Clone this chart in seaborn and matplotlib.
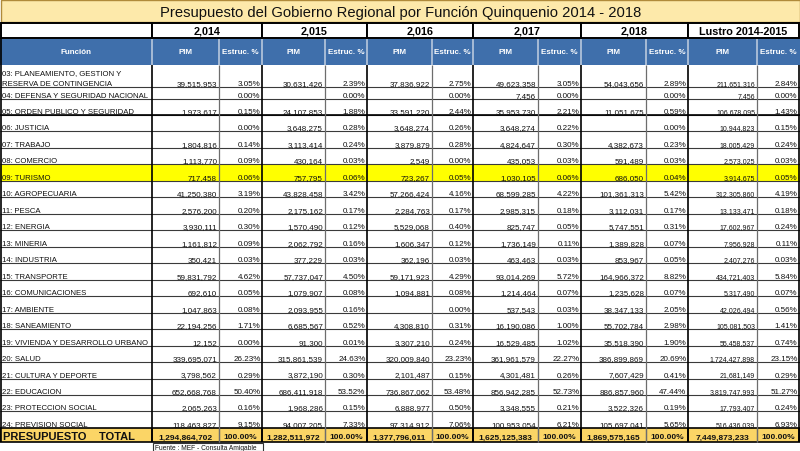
import numpy as np
import matplotlib
matplotlib.use("Agg")
import matplotlib.pyplot as plt
from matplotlib.patches import Rectangle
import seaborn as sns

funciones = [
    "03: PLANEAMIENTO, GESTION Y\nRESERVA DE CONTINGENCIA",
    "04: DEFENSA Y SEGURIDAD NACIONAL",
    "05: ORDEN PUBLICO Y SEGURIDAD",
    "06: JUSTICIA",
    "07: TRABAJO",
    "08: COMERCIO",
    "09: TURISMO",
    "10: AGROPECUARIA",
    "11: PESCA",
    "12: ENERGIA",
    "13: MINERIA",
    "14: INDUSTRIA",
    "15: TRANSPORTE",
    "16: COMUNICACIONES",
    "17: AMBIENTE",
    "18: SANEAMIENTO",
    "19: VIVIENDA Y DESARROLLO URBANO",
    "20: SALUD",
    "21: CULTURA Y DEPORTE",
    "22: EDUCACION",
    "23: PROTECCION SOCIAL",
    "24: PREVISION SOCIAL",
]
periodos = ["2,014", "2,015", "2,016", "2,017", "2,018", "Lustro 2014-2015"]

pim_2014 = [39515953, None, 1973617, None, 1804816, 1113770, 717458, 41250380, 2576200, 3930111, 1161812,
            350421, 59831792, 692610, 1047863, 22194256, 12152, 339695071, 3798562, 652668768, 2065263, 118463827]
pct_2014 = [3.05, 0.00, 0.15, 0.00, 0.14, 0.09, 0.06, 3.19, 0.20, 0.30, 0.09,
            0.03, 4.62, 0.05, 0.08, 1.71, 0.00, 26.23, 0.29, 50.40, 0.16, 9.15]
pim_2015 = [30631426, None, 24107853, 3648275, 3113414, 430164, 757795, 43828458, 2175162, 1570490, 2062792,
            377229, 57737047, 1079907, 2093955, 6685567, 91300, 315861539, 3872190, 686411918, 1968286, 94007205]
pct_2015 = [2.39, 0.00, 1.88, 0.28, 0.24, 0.03, 0.06, 3.42, 0.17, 0.12, 0.16,
            0.03, 4.50, 0.08, 0.16, 0.52, 0.01, 24.63, 0.30, 53.52, 0.15, 7.33]
pim_2016 = [37836922, None, 33591220, 3648274, 3879879, 2549, 723267, 57266424, 2284763, 5529068, 1606347,
            362196, 59171923, 1094881, None, 4308810, 3307210, 320009840, 2101487, 736867062, 6888977, 97314912]
pct_2016 = [2.75, 0.00, 2.44, 0.26, 0.28, 0.00, 0.05, 4.16, 0.17, 0.40, 0.12,
            0.03, 4.29, 0.08, 0.00, 0.31, 0.24, 23.23, 0.15, 53.48, 0.50, 7.06]
pim_2017 = [49623358, 7456, 35953730, 3648274, 4824647, 435053, 1030105, 68599285, 2985315, 825747, 1736149,
            463463, 93014269, 1214464, 537543, 16190086, 16529485, 361961579, 4301481, 856942285, 3348555, 100953054]
pct_2017 = [3.05, 0.00, 2.21, 0.22, 0.30, 0.03, 0.06, 4.22, 0.18, 0.05, 0.11,
            0.03, 5.72, 0.07, 0.03, 1.00, 1.02, 22.27, 0.26, 52.73, 0.21, 6.21]
pim_2018 = [54043656, None, 11051675, None, 4382673, 591489, 686050, 101361313, 3112031, 5747551, 1389828,
            853967, 164966372, 1235628, 38347133, 55702784, 35518390, 386899869, 7607429, 886857960, 3522326, 105697041]
pct_2018 = [2.89, 0.00, 0.59, 0.00, 0.23, 0.03, 0.04, 5.42, 0.17, 0.31, 0.07,
            0.05, 8.82, 0.07, 2.05, 2.98, 1.90, 20.69, 0.41, 47.44, 0.19, 5.65]
pim_lustro = [211651316, 7456, 106678095, 10944823, 18005429, 2573025, 3914675, 312305860, 13133471, 17602967, 7956928,
              2407276, 434721403, 5317490, 42026494, 105081503, 55458537, 1724427898, 21681149, 3819747993, 17793407, 516436039]
pct_lustro = [2.84, 0.00, 1.43, 0.15, 0.24, 0.03, 0.05, 4.19, 0.18, 0.24, 0.11,
              0.03, 5.84, 0.07, 0.56, 1.41, 0.74, 23.15, 0.29, 51.27, 0.24, 6.93]
totales = [1294864702, 1282511972, 1377796011, 1625125383, 1869575165, 7449873233]
resaltado = "09: TURISMO"

pims = [pim_2014, pim_2015, pim_2016, pim_2017, pim_2018, pim_lustro]
pcts = [pct_2014, pct_2015, pct_2016, pct_2017, pct_2018, pct_lustro]

# layout (pixels)
col_w = [152, 67, 43, 63, 42, 65, 41, 65, 43, 65, 42, 69, 42]
row_h = [22, 12, 16] + [16.47] * 19
TITLE_H, YEAR_TOP, YEAR_BOT, HEAD_BOT = 23, 24, 38.5, 66

BLUE = "#3f6fab"
TITLE_BG = "#fde9aa"
TOTAL_BG = "#fbd566"
YELLOW = "#ffff00"

sns.set_style("white")
plt.rcParams["font.family"] = ["Liberation Sans", "DejaVu Sans"]

fig = plt.figure(figsize=(8, 4.52), dpi=100)
ax = fig.add_axes([0, 0, 1, 1])
ax.set_xlim(0, 800)
ax.set_ylim(452, 0)
ax.axis("off")

xe = np.concatenate([[0], np.cumsum(col_w)])
ye = HEAD_BOT + np.concatenate([[0], np.cumsum(row_h)])
tot_top, tot_bot = ye[-1], ye[-1] + 14.5

# title band
ax.add_patch(Rectangle((0.5, 0.5), 799, TITLE_H - 0.5, fc=TITLE_BG, ec="#b08a3a", lw=1))
ax.text(401, 17, "Presupuesto del Gobierno Regional por Función Quinquenio 2014 - 2018",
        ha="center", va="baseline", fontsize=10.6, color="#111111")

# year row
ax.add_patch(Rectangle((0.5, YEAR_TOP), xe[1] - 0.5, YEAR_BOT - YEAR_TOP, fc="white", ec="black", lw=1.4))
for k, per in enumerate(periodos):
    x0, x1 = xe[1 + 2 * k], xe[3 + 2 * k]
    ax.add_patch(Rectangle((x0, YEAR_TOP), x1 - x0, YEAR_BOT - YEAR_TOP, fc="white", ec="black", lw=1.4))
    ax.text((x0 + x1) / 2, YEAR_BOT - 3.5, per, ha="center", va="baseline",
            fontsize=7.8, fontweight="bold", color="black")

# header row
ax.add_patch(Rectangle((0, YEAR_BOT + 1), 800, HEAD_BOT - YEAR_BOT - 1, fc=BLUE, ec="none"))
heads = ["Función"] + ["PIM", "Estruc. %"] * 6
for j, h in enumerate(heads):
    ax.text((xe[j] + xe[j + 1]) / 2, (YEAR_BOT + HEAD_BOT) / 2, h, ha="center", va="center",
            fontsize=5.8, fontweight="bold", color="white")
ax.vlines(xe[1:-1], YEAR_BOT + 1, HEAD_BOT, colors="#b9c9dd", lw=1.2)

# body
for i, fn in enumerate(funciones):
    top, bot = ye[i], ye[i + 1]
    base = bot - 2
    if fn == resaltado:
        ax.add_patch(Rectangle((0, top), 800, bot - top, fc=YELLOW, ec="none"))
    lines = fn.split("\n")
    for n, line in enumerate(lines):
        ax.text(2, base - (len(lines) - 1 - n) * 11, line, ha="left", va="baseline",
                fontsize=5.6, color="#111111")
    for k in range(6):
        v, p = pims[k][i], pcts[k][i]
        size = 5.0 if k == 5 else 5.8
        if v is not None:
            ax.text(xe[2 + 2 * k] - 2, base, f"{v:,}", ha="right", va="baseline",
                    fontsize=size, color="#111111")
        ax.text(xe[3 + 2 * k] - 1.5, base, f"{p:.2f}%", ha="right", va="baseline",
                fontsize=5.8, color="#111111")

ax.hlines(ye[1:-1], 0, 800, colors="#3a3a3a", lw=0.8)
ax.hlines([ye[3]], 0, 800, colors="black", lw=1.2)

# vertical grid
inner = [xe[2 + 2 * k] for k in range(6)]
outer = [xe[1 + 2 * k] for k in range(6)] + [xe[-1] - 0.5]
ax.vlines(inner, HEAD_BOT, tot_bot, colors="#6d6d6d", lw=0.9)
ax.vlines(outer, HEAD_BOT, tot_bot, colors="black", lw=1.2)
ax.vlines([0.5], YEAR_BOT, tot_bot, colors="black", lw=1.2)

# total row
ax.add_patch(Rectangle((0, tot_top), 800, tot_bot - tot_top, fc=TOTAL_BG, ec="black", lw=1.2))
ax.vlines(inner, tot_top, tot_bot, colors="#6d6d6d", lw=0.9)
ax.vlines(outer, tot_top, tot_bot, colors="black", lw=1.2)
ax.text(3, tot_bot - 3.5, "PRESUPUESTO    TOTAL", ha="left", va="baseline",
        fontsize=8, fontweight="bold", color="#111111")
for k, t in enumerate(totales):
    ax.text((xe[1 + 2 * k] + xe[2 + 2 * k]) / 2, tot_bot - 4, f"{t:,}",
            ha="center", va="baseline", fontsize=6, fontweight="bold", color="#111111")
    ax.text((xe[2 + 2 * k] + xe[3 + 2 * k]) / 2, tot_bot - 4, "100.00%",
            ha="center", va="baseline", fontsize=6, fontweight="bold", color="#111111")

# source note
ax.add_patch(Rectangle((xe[1] + 1, tot_bot + 0.5), 110, 8, fc="white", ec="#333333", lw=0.8))
ax.text(xe[1] + 3, tot_bot + 6.8, "Fuente : MEF - Consulta Amigable", ha="left", va="baseline",
        fontsize=4.8, color="#111111")

fig.savefig("out.png", dpi=100, facecolor="white")
